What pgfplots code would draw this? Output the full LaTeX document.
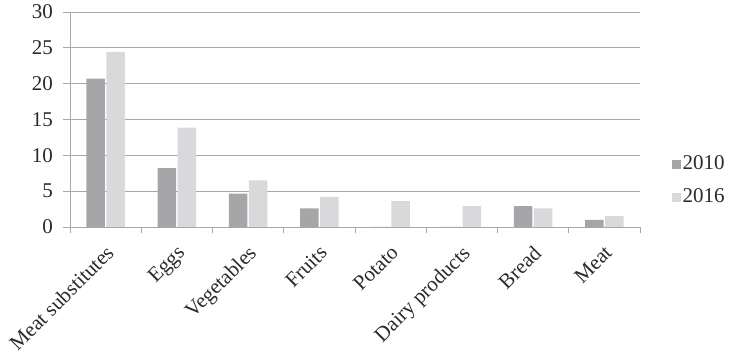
\documentclass[border=0pt]{standalone}
\usepackage{fontspec}
\setmainfont{Liberation Serif}
\usepackage{pgfplots}
\pgfplotsset{compat=1.18}
\definecolor{cA}{HTML}{A6A6A8}
\definecolor{cB}{HTML}{D9D9DB}
\definecolor{gl}{HTML}{A8A8A8}
\definecolor{tx}{HTML}{2A2A2A}
\begin{document}
\fontsize{21}{24}\selectfont
\begin{tikzpicture}
\useasboundingbox (-70pt,-126pt) rectangle (664pt,227pt);
\begin{axis}[
  scale only axis, width=570pt, height=215pt,
  ybar=1.5pt, bar width=18.5pt,
  xmin=-0.5, xmax=7.5, ymin=0, ymax=30,
  ytick={0,5,...,30},
  xtick={0,...,7},
  xticklabels={Meat substitutes,Eggs,Vegetables,Fruits,Potato,Dairy products,Bread,Meat},
  minor xtick={-0.5,0.5,...,7.5},
  major x tick style={draw=none},
  minor x tick style={gl, line width=0.9pt},
  minor tick length=6pt,
  xtick align=outside, ytick align=outside,
  major tick length=7pt,
  ytick style={gl, line width=0.9pt},
  axis x line*=bottom, axis y line*=left,
  axis line style={gl, line width=0.9pt, -},
  ymajorgrids, grid style={gl, line width=0.9pt},
  x tick label style={xshift=-1pt, yshift=-10pt, rotate=45, anchor=north east, inner sep=0pt, font=\fontsize{21}{24}\selectfont, text=tx},
  y tick label style={font=\fontsize{21}{24}\selectfont, text=tx, xshift=-3pt},
  /pgf/number format/assume math mode=true,
  legend style={at={(1.055,0.215)}, anchor=west, draw=none, fill=none,
    font=\fontsize{21}{24}\selectfont, text=tx, row sep=12pt, inner sep=0pt},
  legend cell align=left,
  legend image code/.code={\fill[#1] (0pt,-4.5pt) rectangle (9pt,4.5pt);},
]
\addplot[fill=cA, draw=none] coordinates {(0,20.7) (1,8.2) (2,4.65) (3,2.6) (4,0) (5,0) (6,2.9) (7,1.0)};
\addplot[fill=cB, draw=none] coordinates {(0,24.45) (1,13.85) (2,6.5) (3,4.2) (4,3.6) (5,2.9) (6,2.6) (7,1.5)};
\legend{2010,2016}
\end{axis}
\end{tikzpicture}
\end{document}
